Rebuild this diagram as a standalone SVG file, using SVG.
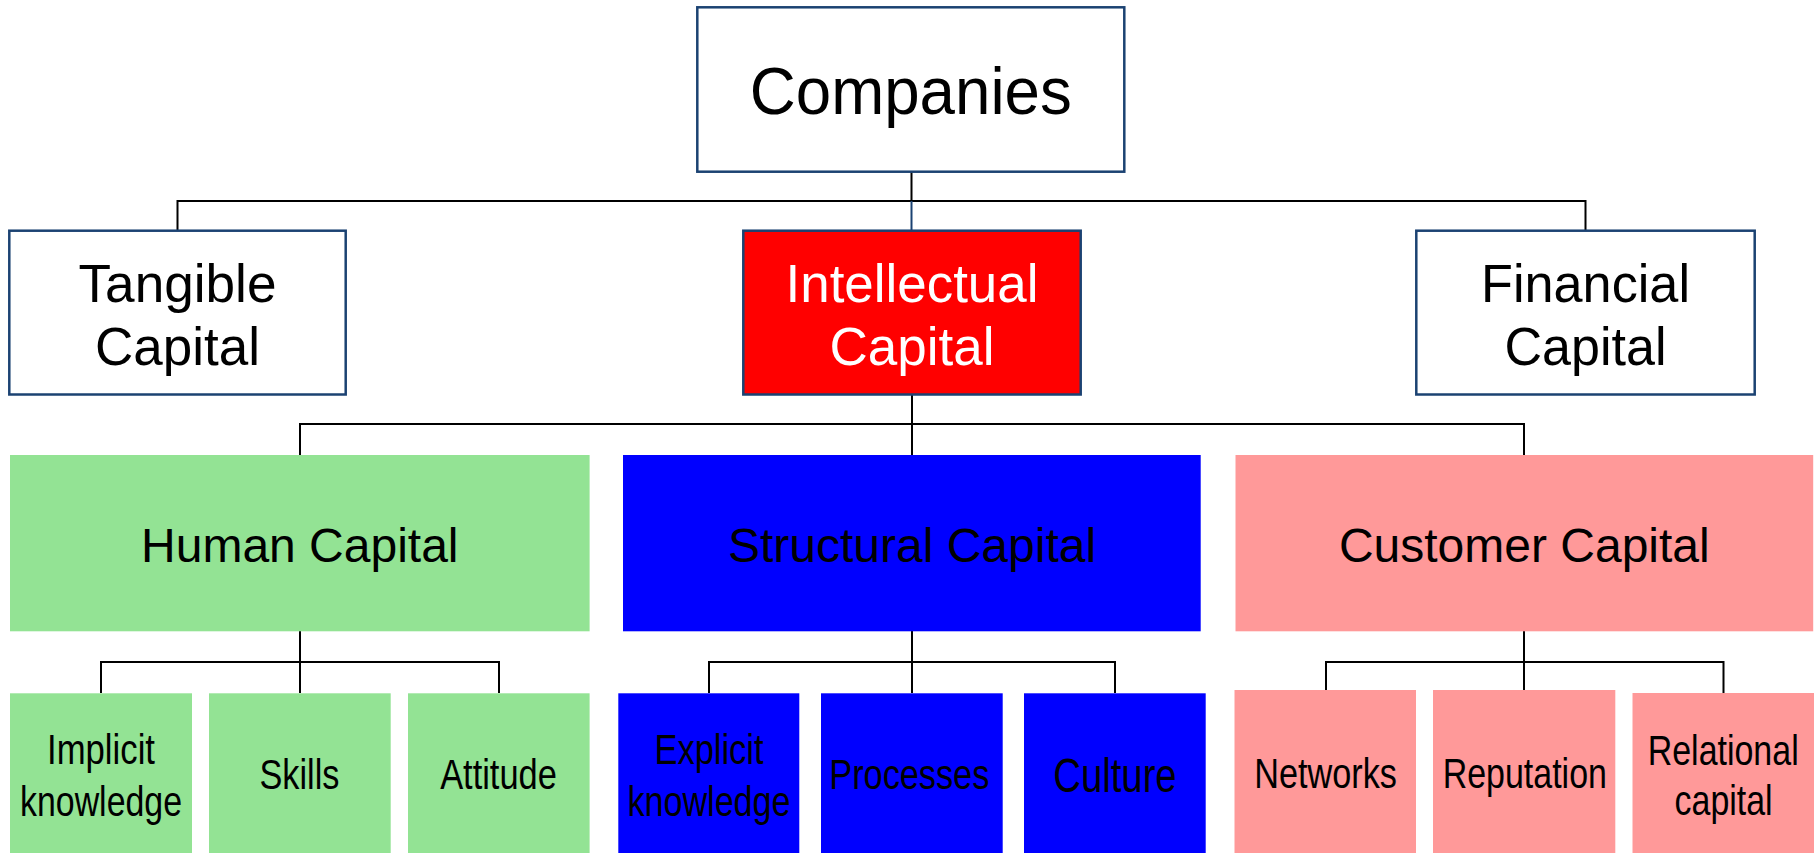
<svg xmlns="http://www.w3.org/2000/svg" width="1819" height="853" viewBox="0 0 1819 853">
<style>
text{font-family:"Liberation Sans",Arial,sans-serif;text-anchor:middle;fill:#000}
.outl{fill:#fff;stroke:#1B4272;stroke-width:2.5}
.red{fill:#FF0000;stroke:#1B4272;stroke-width:2.5}
.green{fill:#93E394}
.blue{fill:#0000FF}
.pink{fill:#FF9999}
.t1{font-size:54.5px}
.t2{font-size:48px}
.t3{font-size:42px}
.conn{fill:none;stroke:#000;stroke-width:2}
</style>
<rect width="1819" height="853" fill="#fff"/>
<g id="connectors">
<path class="conn" d="M911.5 171.7V201M177.5 231V201H1585.5V231"/>
<path d="M911.5 201V231" fill="none" stroke="#1B4272" stroke-width="2"/>
<path class="conn" d="M912 395V455M300 455V424H1524V455"/>
<path class="conn" d="M300 631V693M101 693V662H499V693"/>
<path class="conn" d="M912 631V693M709 693V662H1115V693"/>
<path class="conn" d="M1524 631V690M1326 690V662H1723.5V693"/>
</g>
<g id="companies">
<rect class="outl" x="697.3" y="7.3" width="427" height="164.4"/>
<text x="910.8" y="114.3" font-size="66.5px" textLength="322" lengthAdjust="spacingAndGlyphs">Companies</text>
</g>
<g id="tangible">
<rect class="outl" x="9.3" y="230.7" width="336.4" height="163.8"/>
<text class="t1" x="177.5" y="301.5" textLength="198" lengthAdjust="spacingAndGlyphs">Tangible</text>
<text class="t1" x="177.5" y="364.5" textLength="165" lengthAdjust="spacingAndGlyphs">Capital</text>
</g>
<g id="intellectual">
<rect class="red" x="743.3" y="230.7" width="337.4" height="163.8"/>
<text class="t1" x="912" y="301.5" fill="#fff" style="fill:#fff" textLength="253" lengthAdjust="spacingAndGlyphs">Intellectual</text>
<text class="t1" x="912" y="364.5" style="fill:#fff" textLength="165" lengthAdjust="spacingAndGlyphs">Capital</text>
</g>
<g id="financial">
<rect class="outl" x="1416.3" y="230.7" width="338.4" height="163.8"/>
<text class="t1" x="1585.5" y="301.5" textLength="209" lengthAdjust="spacingAndGlyphs">Financial</text>
<text class="t1" x="1585.5" y="364.5" textLength="162" lengthAdjust="spacingAndGlyphs">Capital</text>
</g>
<g id="human">
<rect class="green" x="10" y="455" width="579.6" height="176.3"/>
<text class="t2" x="299.8" y="561.7">Human Capital</text>
</g>
<g id="structural">
<rect class="blue" x="623" y="455" width="577.7" height="176.3"/>
<text class="t2" x="912" y="561.7">Structural Capital</text>
</g>
<g id="customer">
<rect class="pink" x="1235.5" y="455" width="577.7" height="176.3"/>
<text class="t2" x="1524.3" y="561.7">Customer Capital</text>
</g>
<g id="implicit">
<rect class="green" x="10" y="693.3" width="182" height="159.7"/>
<text class="t3" x="101" y="764" textLength="108" lengthAdjust="spacingAndGlyphs">Implicit</text>
<text class="t3" x="101" y="816" textLength="162" lengthAdjust="spacingAndGlyphs">knowledge</text>
</g>
<g id="skills">
<rect class="green" x="209" y="693.3" width="181.7" height="159.7"/>
<text class="t3" x="299.5" y="789.3" textLength="80" lengthAdjust="spacingAndGlyphs">Skills</text>
</g>
<g id="attitude">
<rect class="green" x="408" y="693.3" width="181.6" height="159.7"/>
<text class="t3" x="498.5" y="789.3" textLength="116.7" lengthAdjust="spacingAndGlyphs">Attitude</text>
</g>
<g id="explicit">
<rect class="blue" x="618.3" y="693.3" width="181" height="159.7"/>
<text class="t3" x="709" y="764" textLength="109" lengthAdjust="spacingAndGlyphs">Explicit</text>
<text class="t3" x="709" y="816" textLength="163" lengthAdjust="spacingAndGlyphs">knowledge</text>
</g>
<g id="processes">
<rect class="blue" x="821" y="693.3" width="181.7" height="159.7"/>
<text class="t3" x="909.3" y="789.3" textLength="160" lengthAdjust="spacingAndGlyphs">Processes</text>
</g>
<g id="culture">
<rect class="blue" x="1024" y="693.3" width="181.7" height="159.7"/>
<text x="1115" y="791.7" font-size="49px" textLength="123.3" lengthAdjust="spacingAndGlyphs">Culture</text>
</g>
<g id="networks">
<rect class="pink" x="1234.5" y="690" width="181.5" height="163"/>
<text class="t3" x="1325.6" y="788.3" textLength="142.5" lengthAdjust="spacingAndGlyphs">Networks</text>
</g>
<g id="reputation">
<rect class="pink" x="1433" y="690" width="182.3" height="163"/>
<text class="t3" x="1524.8" y="787.7" textLength="164.3" lengthAdjust="spacingAndGlyphs">Reputation</text>
</g>
<g id="relational">
<rect class="pink" x="1632.5" y="693" width="181.5" height="160"/>
<text class="t3" x="1723.2" y="765" textLength="151" lengthAdjust="spacingAndGlyphs">Relational</text>
<text class="t3" x="1723.6" y="815" textLength="98" lengthAdjust="spacingAndGlyphs">capital</text>
</g>
</svg>
